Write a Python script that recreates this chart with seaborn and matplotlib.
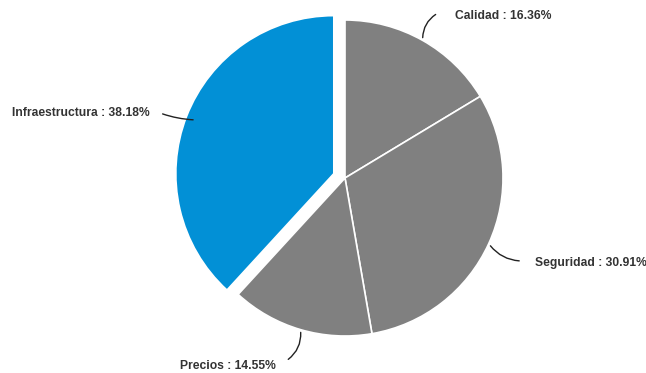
import numpy as np
import matplotlib
matplotlib.use("Agg")
import matplotlib.pyplot as plt
import seaborn as sns

categorias = ["Calidad", "Seguridad", "Precios", "Infraestructura"]
porcentajes = [16.36, 30.91, 14.55, 38.18]

sns.set_theme(style="white")
plt.rcParams['font.family'] = ['Liberation Sans', 'DejaVu Sans']

colores = ["#808080", "#808080", "#808080", "#0290d6"]
# pie explode is in data units here (axes are in pixels)
explode = [0, 0, 0, 12]

fig = plt.figure(figsize=(6.46, 3.73), dpi=100)
ax = fig.add_axes([0, 0, 1, 1])

cx, cy, r = 345, 195, 158
wedges, _ = ax.pie(
    porcentajes,
    colors=colores,
    explode=explode,
    startangle=90,
    counterclock=False,
    center=(cx, cy),
    radius=r,
    wedgeprops={"edgecolor": "white", "linewidth": 1.2},
)
ax.set_xlim(0, 646)
ax.set_ylim(0, 373)
ax.set_aspect("equal")
ax.axis("off")

# label text position (left edge), connector end, connector curvature
etiquetas = {
    "Calidad": ((455, 357), (438, 360), -0.3),
    "Seguridad": ((535, 110), (522, 112), 0.25),
    "Precios": ((180, 7), (286, 12), -0.3),
    "Infraestructura": ((12, 260), (160, 260), -0.08),
}

for w, cat, p in zip(wedges, categorias, porcentajes):
    ang = np.deg2rad((w.theta1 + w.theta2) / 2)
    wx, wy = w.center
    rr = w.r - 10 if cat == "Infraestructura" else w.r
    px, py = wx + rr * np.cos(ang), wy + rr * np.sin(ang)
    (tx, ty), (ex, ey), rad = etiquetas[cat]
    ax.annotate("", xy=(ex, ey), xytext=(px, py),
                arrowprops=dict(arrowstyle="-", color="#222222", lw=1,
                                connectionstyle=f"arc3,rad={rad}"))
    ax.text(tx, ty, f"{cat} : {p:.2f}%", fontsize=8.7, fontweight="bold",
            color="#333333", ha="left", va="center")

fig.savefig("out.png", dpi=100, facecolor="white")
